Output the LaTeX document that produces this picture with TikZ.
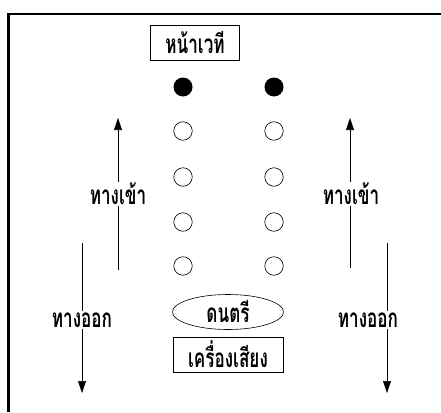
\documentclass[tikz,border=0pt]{standalone}
\usepackage{fontspec}
\newfontfamily\thaifont[Script=Thai]{Loma}
\usetikzlibrary{shapes.geometric,arrows.meta}
\newcommand{\tall}[1]{\scalebox{0.95}[1.45]{#1}}
\begin{document}
\begin{tikzpicture}[x=1pt,y=-1pt,
  lbl/.style={font=\thaifont\bfseries\fontsize{18}{20}\selectfont, inner sep=1pt},
  dancer/.style={circle, draw, line width=0.6pt, minimum size=18.5pt, inner sep=0pt},
  lead/.style={circle, fill=black, minimum size=19pt, inner sep=0pt},
  flow/.style={line width=0.6pt, -{Triangle[length=12pt,width=8pt]}},
  seg/.style={line width=0.6pt}]
\useasboundingbox (0,0) rectangle (441,412);
\fill[white] (0,0) rectangle (441,412);
% frame
\coordinate (ftr) at (441,14);
\coordinate (ftl) at (8.5,14);
\coordinate (fbl) at (8.5,412);
\draw[line width=2.4pt] (ftr) -- (ftl) -- (fbl);
% stage
\node[draw, line width=1.8pt, minimum width=89pt, minimum height=35pt, lbl] (stage) at (195,43) {\tall{หน้าเวที}};
% dancers
\node[lead] (l1) at (183,87) {};
\node[lead] (r1) at (274,87) {};
\foreach \i/\y in {2/131,3/177,4/222,5/266}{
  \node[dancer] (l\i) at (183,\y) {};
  \node[dancer] (r\i) at (274,\y) {};
}
% music and sound
\node[ellipse, draw, line width=0.6pt, minimum width=111pt, minimum height=35pt, inner sep=0pt, lbl] (music) at (228,312) {\tall{ดนตรี}};
\node[draw, line width=0.6pt, minimum width=110pt, minimum height=35pt, lbl] (sound) at (228,354.5) {\tall{เครื่องเสียง}};
% entrance labels and arrows
\node[lbl] (inL) at (118,194) {\tall{ทางเข้า}};
\node[lbl] (inR) at (351,194) {\tall{ทางเข้า}};
\coordinate (inLb) at (118,270);
\coordinate (inLt) at (118,118);
\coordinate (inRb) at (350,268);
\coordinate (inRt) at (350,118);
\draw[seg] (inLb) -- (inL.south -| inLb);
\draw[flow] (inL.north -| inLt) -- (inLt);
\draw[seg] (inRb) -- (inR.south -| inRb);
\draw[flow] (inR.north -| inRt) -- (inRt);
% exit labels and arrows
\node[lbl] (outL) at (82,320) {\tall{ทางออก}};
\node[lbl] (outR) at (368,320) {\tall{ทางออก}};
\coordinate (outLt) at (82,243);
\coordinate (outLb) at (82,393);
\coordinate (outRt) at (387,243);
\coordinate (outRb) at (387,393);
\draw[seg] (outLt) -- (outL.north -| outLt);
\draw[flow] (outL.south -| outLb) -- (outLb);
\draw[seg] (outRt) -- (outR.north -| outRt);
\draw[flow] (outR.south -| outRb) -- (outRb);
\end{tikzpicture}
\end{document}
